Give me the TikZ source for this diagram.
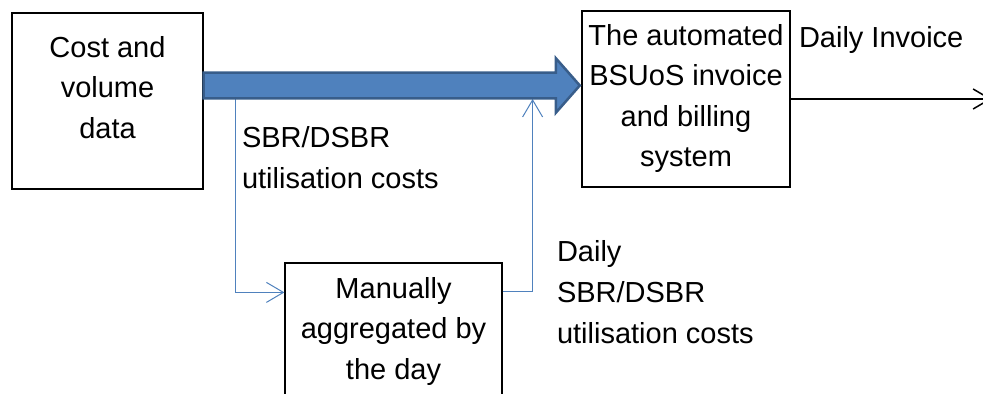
\documentclass[tikz,border=0pt]{standalone}
\usepackage{fontspec}
\setmainfont{Liberation Sans}
\usepackage{xcolor}
\usepackage{tikz}
\usetikzlibrary{arrows.meta}
\usetikzlibrary{positioning,calc}
\definecolor{flowblue}{HTML}{4F81BD}
\definecolor{flowdark}{HTML}{385D8A}
\tikzset{
block/.style = {draw, fill=white, rectangle, inner sep=0pt, line width=0.6pt},
link/.style = {draw=flowblue, line width=0.5pt},
bigarrow/.style = {draw=flowdark, fill=flowblue, line width=1.25pt, line join=miter},
note/.style = {inner sep=0pt, align=left}
}

\begin{document}
\begin{tikzpicture}[auto, node distance=2cm, >={Straight Barb[length=8.5pt,width=10pt]},
    font=\fontsize{14.5}{20.3}\selectfont]
    \useasboundingbox (0,0) rectangle (491.5pt,-197pt);
    \node [block] (cost) at (53.75pt,-50.5pt) {\parbox[c][88pt][t]{95.5pt}{\vspace*{11.5pt}\centering Cost and\\volume\\data}};
    \node [block, right of=cost, node distance=289.25pt, yshift=1pt] (billing) {\parbox[c][88pt][t]{104pt}{\vspace*{6.5pt}\centering The automated\\BSUoS invoice\\and billing\\system}};
    \node [block, below of=cost, node distance=114.5pt, xshift=143pt] (manual) {\parbox[c][67pt][t]{108.5pt}{\vspace*{7pt}\centering Manually\\aggregated by\\the day}};

    \coordinate (tail) at ([yshift=7.75pt]cost.east);
    \coordinate (tip) at ([xshift=-0.8pt]tail -| billing.west);
    \coordinate (split) at ($(tail)+(16pt,-6.75pt)$);
    \coordinate (merge) at ($(tail)+(164.5pt,-6.75pt)$);
    \coordinate (out) at ($(billing.east)+(100.5pt,0)$);

    \draw [link, ->] (split) |- ($(manual.north west)+(0,-15pt)$);
    \draw [link, ->] ($(manual.north east)+(0,-14.5pt)$) -| (merge);
    \draw [bigarrow] ($(tail)+(0,6.45pt)$) -- ($(tip)+(-12pt,6.45pt)$) -- ($(tip)+(-12pt,13.65pt)$) -- (tip)
        -- ($(tip)+(-12pt,-13.65pt)$) -- ($(tip)+(-12pt,-6.45pt)$) -- ($(tail)+(0,-6.45pt)$) -- cycle;
    \draw [->, line width=0.75pt] (billing.east) -- (out);

    \node [note, anchor=north west] (costlabel) at ($(split)+(3pt,-13.5pt)$) {SBR/DSBR\\utilisation costs};
    \node [note, anchor=north west] (dailylabel) at ($(manual.north east)+(27pt,11pt)$) {Daily\\SBR/DSBR\\utilisation costs};
    \node [note, anchor=base west] (invoicelabel) at ($(billing.north east)+(4pt,-18.5pt)$) {Daily Invoice};
\end{tikzpicture}
\end{document}
